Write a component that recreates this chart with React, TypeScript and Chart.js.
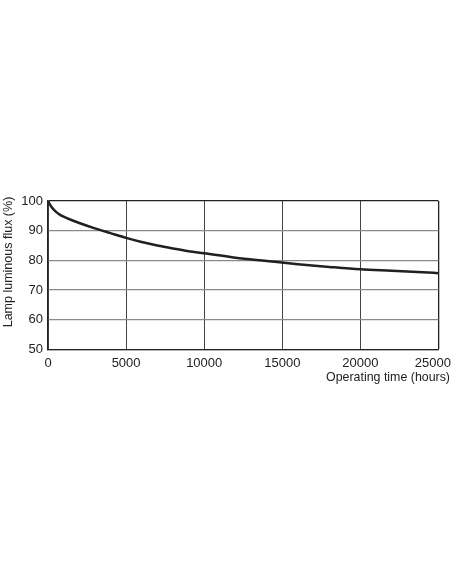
import React, { useEffect, useRef } from "react";
import { Chart, registerables } from "chart.js";

Chart.register(...registerables);

const hours = [0, 250, 500, 750, 1000, 1500, 2000, 3000, 4000, 5000, 6000, 7000, 8000, 9000, 10000, 12000, 14000, 16000, 18000, 20000, 22000, 24000, 25000];
const flux = [100, 97.8, 96.4, 95.4, 94.7, 93.6, 92.6, 90.8, 89.2, 87.6, 86.2, 85.0, 84.0, 83.1, 82.4, 80.9, 79.8, 78.7, 77.8, 77.0, 76.5, 76.0, 75.7];
const xTicks = [0, 5000, 10000, 15000, 20000, 25000];
const yTicks = [50, 60, 70, 80, 90, 100];
const yTitle = "Lamp luminous flux (%)";
const xTitle = "Operating time (hours)";

const FONT = "'Liberation Sans', Arial, sans-serif";

export default function App() {
  const ref = useRef<HTMLCanvasElement | null>(null);
  useEffect(() => {
    if (!ref.current) return;
    const titles = {
      id: "titles",
      afterDraw(chart: any) {
        const ctx = chart.ctx;
        const xs = chart.scales.x;
        ctx.save();
        ctx.fillStyle = "#222";
        ctx.font = `13px ${FONT}`;
        ctx.textBaseline = "alphabetic";
        ctx.textAlign = "center";
        xTicks.forEach((v) => {
          const label = String(v);
          const w = ctx.measureText(label).width;
          let cx = xs.getPixelForValue(v);
          if (cx + w / 2 > 451) cx = 451 - w / 2;
          ctx.fillText(label, cx, 367);
        });
        ctx.font = `12.4px ${FONT}`;
        ctx.textAlign = "right";
        ctx.fillText(xTitle, 450, 381);
        ctx.font = `12.5px ${FONT}`;
        ctx.translate(12, 262);
        ctx.rotate(-Math.PI / 2);
        ctx.textAlign = "center";
        ctx.fillText(yTitle, 0, 0);
        ctx.restore();
      },
    };
    const chart = new Chart(ref.current, {
      type: "line",
      data: {
        datasets: [
          {
            data: hours.map((h, i) => ({ x: h, y: flux[i] })),
            borderColor: "#231f20",
            borderWidth: 2.5,
            pointRadius: 0,
            tension: 0.4,
            cubicInterpolationMode: "monotone",
            fill: false,
          },
        ],
      },
      options: {
        responsive: false,
        animation: false,
        layout: { padding: { top: 201, right: 13.5, left: 0, bottom: 0 } },
        plugins: { legend: { display: false }, tooltip: { enabled: false } },
        scales: {
          x: {
            type: "linear",
            min: 0,
            max: 25000,
            afterBuildTicks: (s: any) => {
              s.ticks = xTicks.map((v) => ({ value: v }));
            },
            afterFit: (s: any) => {
              s.height = 584 - 349.5;
              s.paddingLeft = 0;
              s.paddingRight = 0;
            },
            grid: {
              color: (c: any) => (c.tick && c.tick.value === 25000 ? "#222" : "#444"),
              lineWidth: (c: any) => (c.tick && c.tick.value === 25000 ? 1.3 : 1),
              drawTicks: false,
            },
            border: { color: "#222", width: 1.3 },
            ticks: { display: false },
          },
          y: {
            type: "linear",
            min: 50,
            max: 100,
            afterBuildTicks: (s: any) => {
              s.ticks = yTicks.map((v) => ({ value: v }));
            },
            afterFit: (s: any) => {
              s.width = 48;
              s.paddingTop = 0;
              s.paddingBottom = 0;
            },
            grid: {
              color: (c: any) => (c.tick && c.tick.value === 100 ? "#222" : "#8a8a8a"),
              lineWidth: 1.3,
              drawTicks: false,
            },
            border: { color: "#222", width: 1.3 },
            ticks: {
              color: "#222",
              font: { family: FONT, size: 13 },
              padding: 5,
              callback: (v: any) => String(v),
            },
          },
        },
      },
      plugins: [titles],
    } as any);
    return () => chart.destroy();
  }, []);
  return (
    <div style={{ position: "fixed", left: 0, top: 0, width: 452, height: 584, background: "#fff" }}>
      <canvas ref={ref} width={452} height={584} style={{ display: "block" }} />
    </div>
  );
}
